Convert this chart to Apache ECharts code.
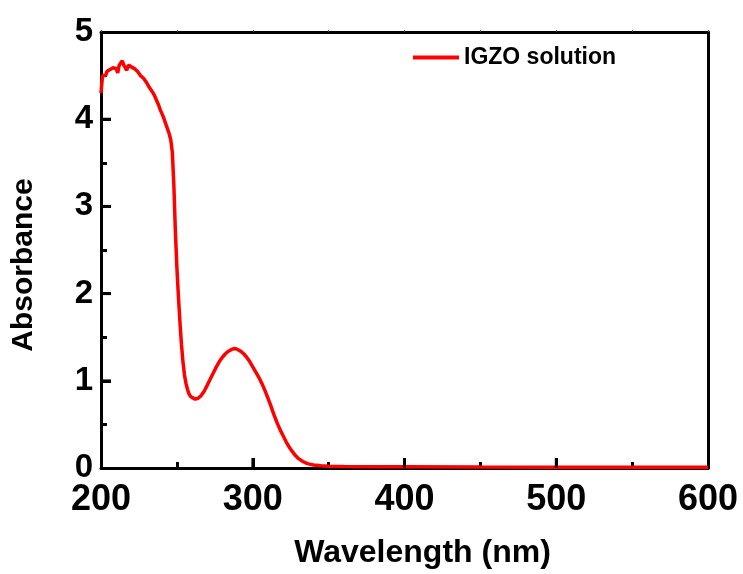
<!DOCTYPE html>
<html>
<head>
<meta charset="utf-8">
<script src="https://cdn.jsdelivr.net/npm/echarts@6/dist/echarts.min.js"></script>
<style>html,body{margin:0;padding:0;background:#fff}#c{width:743px;height:574px}</style>
</head>
<body>
<div id="c"></div>
<script>
const wavelength = [200,201,202,203,204,205,206,207,208,209,210,211,212,213,214,215,216,217,218,219,220,221,222,223,224,225,226,227,228,229,230,231,232,233,234,235,236,237,238,239,240,241,242,243,244,245,246,247,248,249,250,251,252,253,254,255,256,257,258,259,260,262,264,266,268,270,272,274,276,278,280,282,284,286,288,290,292,294,296,298,300,302,304,306,308,310,312,314,316,318,320,322,324,326,328,330,333,336,340,345,350,360,380,400,450,500,550,600];
const absorbance = [4.30,4.50,4.52,4.50,4.55,4.53,4.57,4.56,4.59,4.61,4.58,4.53,4.62,4.64,4.67,4.62,4.60,4.56,4.62,4.63,4.60,4.61,4.58,4.57,4.55,4.54,4.50,4.51,4.47,4.46,4.42,4.40,4.36,4.34,4.31,4.28,4.24,4.20,4.16,4.11,4.07,4.03,3.98,3.93,3.88,3.83,3.76,3.62,3.25,2.72,2.30,1.97,1.68,1.42,1.22,1.07,0.97,0.90,0.85,0.82,0.80,0.79,0.80,0.83,0.88,0.95,1.02,1.09,1.16,1.22,1.27,1.31,1.34,1.36,1.37,1.36,1.34,1.31,1.27,1.22,1.16,1.10,1.04,0.97,0.89,0.80,0.71,0.61,0.52,0.44,0.37,0.30,0.24,0.19,0.145,0.11,0.075,0.05,0.035,0.025,0.02,0.016,0.014,0.013,0.011,0.01,0.01,0.01];
const xTicks = [300, 400, 500];
const yTicks = [1, 2, 3, 4];
const seriesName = 'IGZO solution';
const xTitle = 'Wavelength (nm)';
const yTitle = 'Absorbance';

const data = wavelength.map((w, i) => [w, absorbance[i]]);
const FONT = '"Liberation Sans", Arial, sans-serif';
const chart = echarts.init(document.getElementById('c'), null, {renderer: 'canvas'});
chart.setOption({
  animation: false,
  backgroundColor: '#fff',
  grid: {left: 101, right: 35, top: 32, bottom: 106},
  legend: {
    left: 408, top: 41,
    icon: 'rect', itemWidth: 46, itemHeight: 4, itemGap: 5,
    textStyle: {fontFamily: FONT, fontWeight: 'bold', fontSize: 23, color: '#000'},
    data: [seriesName]
  },
  xAxis: [{
    type: 'value', min: 200, max: 600, interval: 100, position: 'bottom',
    name: xTitle, nameLocation: 'middle', nameGap: 69,
    nameTextStyle: {fontFamily: FONT, fontWeight: 'bold', fontSize: 32, color: '#000', padding: [0, 0, 0, 36]},
    axisLine: {show: true, onZero: false, lineStyle: {color: '#000', width: 3}},
    axisTick: {show: true, inside: true, length: 10, lineStyle: {color: '#000', width: 3}},
    minorTick: {show: true, splitNumber: 2, length: 6, lineStyle: {color: '#000', width: 3}},
    axisLabel: {fontFamily: FONT, fontWeight: 'bold', fontSize: 36, color: '#000', margin: 14},
    splitLine: {show: false}
  }, {
    type: 'value', min: 200, max: 600, interval: 100, position: 'top',
    axisLine: {show: true, onZero: false, lineStyle: {color: '#000', width: 3}},
    axisTick: {show: true, inside: false, length: 2, lineStyle: {color: '#555', width: 1}},
    minorTick: {show: true, splitNumber: 2, length: 2, lineStyle: {color: '#555', width: 1}},
    axisLabel: {show: false}, splitLine: {show: false}
  }],
  yAxis: [{
    type: 'value', min: 0, max: 5, interval: 1, position: 'left',
    name: yTitle, nameLocation: 'middle', nameGap: 62, nameRotate: 90,
    nameTextStyle: {fontFamily: FONT, fontWeight: 'bold', fontSize: 30, color: '#000', padding: [0, 30, 0, 0]},
    axisLine: {show: true, onZero: false, lineStyle: {color: '#000', width: 3}},
    axisTick: {show: true, inside: true, length: 10, lineStyle: {color: '#000', width: 3}},
    minorTick: {show: true, splitNumber: 2, length: 6, lineStyle: {color: '#000', width: 3}},
    axisLabel: {fontFamily: FONT, fontWeight: 'bold', fontSize: 33, color: '#000', margin: 8},
    splitLine: {show: false}
  }, {
    type: 'value', min: 0, max: 5, interval: 1, position: 'right',
    axisLine: {show: true, onZero: false, lineStyle: {color: '#000', width: 3}},
    axisTick: {show: true, inside: false, length: 2, lineStyle: {color: '#000', width: 1}},
    minorTick: {show: true, splitNumber: 2, length: 2, lineStyle: {color: '#000', width: 1}},
    axisLabel: {show: false}, splitLine: {show: false}
  }],
  series: [{
    name: seriesName, type: 'line', data: data,
    xAxisIndex: 0, yAxisIndex: 0,
    showSymbol: false, symbol: 'none',
    lineStyle: {color: '#ff0000', width: 3.5},
    itemStyle: {color: '#ff0000'}, z: 3
  }, {
    name: 'xMajorTicks', type: 'scatter', silent: true, clip: false,
    data: xTicks.map(t => [t, 0]),
    symbol: 'rect', symbolSize: [3, 10], symbolOffset: [0, -5],
    itemStyle: {color: '#000'}, z: 4
  }, {
    name: 'yMajorTicks', type: 'scatter', silent: true, clip: false,
    data: yTicks.map(t => [200, t]),
    symbol: 'rect', symbolSize: [10, 3], symbolOffset: [5, 0],
    itemStyle: {color: '#000'}, z: 4
  }]
});
</script>
</body>
</html>
